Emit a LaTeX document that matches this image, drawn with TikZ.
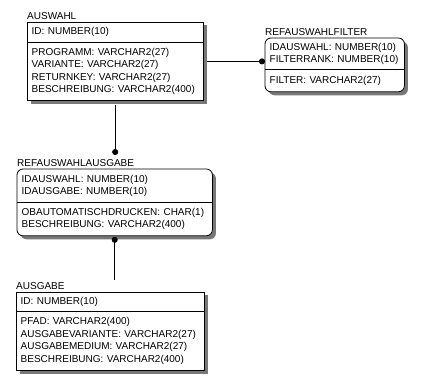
\documentclass[tikz,border=0pt]{standalone}
\usepackage{fontspec}
\setmainfont{Liberation Sans}
\usepackage{tikz}
\usetikzlibrary{arrows.meta,positioning,backgrounds,calc}
\usepackage{xcolor}
\definecolor{shadowgray}{RGB}{120,120,120}

\begin{document}
\begin{tikzpicture}[x=1pt,y=-1pt,
    every node/.style={font=\fontsize{10}{12.5}\selectfont},
    cell/.style={anchor=north west, inner xsep=4.5pt, inner ysep=0pt, align=left},
    tabletitle/.style={anchor=south west, inner sep=0pt, yshift=2.5pt},
    link/.style={line width=0.8pt},
    dropshadow/.style={fill=shadowgray},
    tablebox/.style={link, fill=white}]
    \useasboundingbox (0,0) rectangle (434,390);

    % AUSWAHL
    \node[cell, text width=167pt, minimum height=20pt] (auswahlkey) at (27,22) {ID:~NUMBER(10)};
    \node[cell, text width=167pt, minimum height=58pt, below=0pt of auswahlkey] (auswahlattr)
        {PROGRAMM:~VARCHAR2(27)\\VARIANTE:~VARCHAR2(27)\\RETURNKEY:~VARCHAR2(27)\\BESCHREIBUNG:~VARCHAR2(400)};
    \node[tabletitle] (auswahltitle) at (auswahlkey.north west) {AUSWAHL};

    % REFAUSWAHLFILTER
    \node[cell, text width=130pt, minimum height=31pt] (filterkey) at (265,38)
        {IDAUSWAHL:~NUMBER(10)\\FILTERRANK:~NUMBER(10)};
    \node[cell, text width=130pt, minimum height=22pt, below=0pt of filterkey] (filterattr) {FILTER:~VARCHAR2(27)};
    \node[tabletitle] (filtertitle) at (filterkey.north west) {REFAUSWAHLFILTER};

    % REFAUSWAHLAUSGABE
    \node[cell, text width=186pt, minimum height=33pt] (ragkey) at (17,169)
        {IDAUSWAHL:~NUMBER(10)\\IDAUSGABE:~NUMBER(10)};
    \node[cell, text width=186pt, minimum height=33pt, below=0pt of ragkey] (ragattr)
        {OBAUTOMATISCHDRUCKEN:~CHAR(1)\\BESCHREIBUNG:~VARCHAR2(400)};
    \node[tabletitle] (ragtitle) at (ragkey.north west) {REFAUSWAHLAUSGABE};

    % AUSGABE
    \node[cell, text width=179pt, minimum height=19pt] (ausgabekey) at (16,292) {ID:~NUMBER(10)};
    \node[cell, text width=179pt, minimum height=59pt, below=0pt of ausgabekey] (ausgabeattr)
        {PFAD:~VARCHAR2(400)\\AUSGABEVARIANTE:~VARCHAR2(27)\\AUSGABEMEDIUM:~VARCHAR2(27)\\BESCHREIBUNG:~VARCHAR2(400)};
    \node[tabletitle] (ausgabetitle) at (ausgabekey.north west) {AUSGABE};

    \begin{scope}[on background layer]
        % shadows
        \fill[dropshadow] ([shift={(3.5pt,-3.5pt)}]auswahlkey.north west) rectangle ([shift={(3.5pt,-3.5pt)}]auswahlattr.south east);
        \fill[dropshadow, rounded corners=6pt] ([shift={(3.5pt,-3.5pt)}]filterkey.north west) rectangle ([shift={(3.5pt,-3.5pt)}]filterattr.south east);
        \fill[dropshadow, rounded corners=6pt] ([shift={(3.5pt,-3.5pt)}]ragkey.north west) rectangle ([shift={(3.5pt,-3.5pt)}]ragattr.south east);
        \fill[dropshadow] ([shift={(3.5pt,-3.5pt)}]ausgabekey.north west) rectangle ([shift={(3.5pt,-3.5pt)}]ausgabeattr.south east);

        % boxes
        \draw[tablebox] (auswahlkey.north west) rectangle (auswahlattr.south east);
        \draw[link] (auswahlkey.south west) -- (auswahlkey.south east);
        \draw[tablebox, rounded corners=6pt] (filterkey.north west) rectangle (filterattr.south east);
        \draw[link] (filterkey.south west) -- (filterkey.south east);
        \draw[tablebox, rounded corners=6pt] (ragkey.north west) rectangle (ragattr.south east);
        \draw[link] (ragkey.south west) -- (ragkey.south east);
        \draw[tablebox] (ausgabekey.north west) rectangle (ausgabeattr.south east);
        \draw[link] (ausgabekey.south west) -- (ausgabekey.south east);

        % relations
        \coordinate (auswahlmid) at ($(auswahlkey.north east)!0.5!(auswahlattr.south east)$);
        \draw[link, -{Circle[length=6pt]}, shorten <=4pt] (auswahlmid) -- (auswahlmid -| filterkey.west);
        \draw[link, -{Circle[length=6pt]}, shorten <=4pt, shorten >=4pt] (auswahlattr.south) -- (auswahlattr.south |- ragtitle.north);
        \draw[link, {Circle[length=6pt]}-, shorten <=1pt, shorten >=2pt] (ragattr.south) -- (ragattr.south |- ausgabetitle.north);
    \end{scope}
\end{tikzpicture}
\end{document}
